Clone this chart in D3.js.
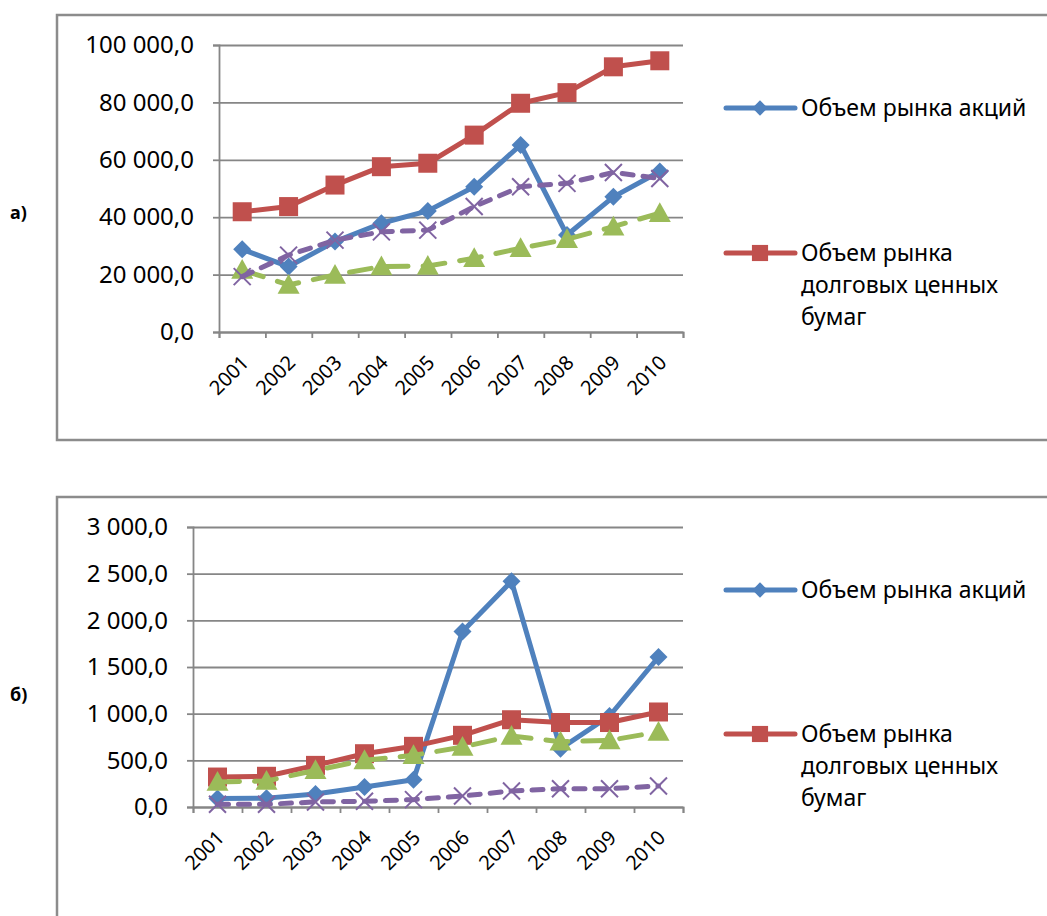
<!DOCTYPE html>
<html>
<head>
<meta charset="utf-8">
<script src="https://cdn.jsdelivr.net/npm/d3@7"></script>
<style>
  body { margin: 0; background: #fff; }
  svg { display: block; font-family: "Noto Sans", sans-serif; }
</style>
</head>
<body>
<div id="chart"></div>
<script>
// ---------------------------------- DATOS ----------------------------------
const YEARS = ["2001", "2002", "2003", "2004", "2005", "2006", "2007", "2008", "2009", "2010"];

const NOMBRE_ACCIONES = "Объем рынка акций";
const NOMBRE_BONOS = ["Объем рынка", "долговых ценных", "бумаг"];

// gráfico а)
const A_ACCIONES = [28800, 22800, 31500, 37900, 42200, 50600, 65200, 33800, 47100, 55900];
const A_BONOS = [41900, 43700, 51200, 57600, 58800, 68600, 79700, 83400, 92400, 94500];
const A_VERDE = [21600, 16400, 19900, 22800, 23000, 25700, 29200, 32300, 36700, 41400];
const A_MORADO = [19300, 26800, 32000, 34900, 35500, 43700, 50600, 51800, 55600, 53500];
const A_TICKS = [0, 20000, 40000, 60000, 80000, 100000];

// gráfico б)
const B_ACCIONES = [90, 95, 140, 214, 293, 1880, 2418, 625, 975, 1607];
const B_BONOS = [321, 329, 446, 571, 650, 768, 935, 905, 905, 1018];
const B_VERDE = [268, 279, 393, 500, 554, 643, 760, 700, 714, 804];
const B_MORADO = [29, 29, 54, 61, 79, 118, 171, 196, 196, 225];
const B_TICKS = [0, 500, 1000, 1500, 2000, 2500, 3000];

// ---------------------------------- ESTILO ----------------------------------
const WIDTH = 1047;
const HEIGHT = 916;

const AZUL = "#4F81BD";
const ROJO = "#C0504D";
const VERDE = "#9BBB59";
const MORADO = "#8064A2";
const GRIS = "#868686";

const locale = d3.formatLocale({ decimal: ",", thousands: " ", grouping: [3], currency: ["", ""] });
const formato = locale.format(",.1f");

const SVG = d3.select("#chart").append("svg")
  .attr("width", WIDTH)
  .attr("height", HEIGHT);

dibujarGrafico({
  etiqueta: "а)", etiquetaY: 219,
  marco: { x: 57, y: 15, w: 1100, h: 425 },
  izq: 219, der: 683, abajo: 332, arriba: 45,
  maximo: 100000, ticks: A_TICKS,
  acciones: A_ACCIONES, bonos: A_BONOS, verde: A_VERDE, morado: A_MORADO,
  leyenda1: 108, leyenda2: 253
});

dibujarGrafico({
  etiqueta: "б)", etiquetaY: 701,
  marco: { x: 57, y: 497, w: 1100, h: 500 },
  izq: 193, der: 683, abajo: 807, arriba: 527,
  maximo: 3000, ticks: B_TICKS,
  acciones: B_ACCIONES, bonos: B_BONOS, verde: B_VERDE, morado: B_MORADO,
  leyenda1: 590, leyenda2: 734
});

function dibujarGrafico(c) {
  const g = SVG.append("g");

  g.append("rect")
    .attr("x", c.marco.x).attr("y", c.marco.y)
    .attr("width", c.marco.w).attr("height", c.marco.h)
    .attr("fill", "none").attr("stroke", "#8c8c8c").attr("stroke-width", 2.5);

  g.append("text")
    .attr("x", 10).attr("y", c.etiquetaY)
    .attr("font-size", "18px").attr("font-weight", "bold")
    .text(c.etiqueta);

  const x = d3.scaleBand().domain(YEARS).range([c.izq, c.der]);
  const xMarcas = d3.scaleLinear().domain([0, YEARS.length]).range([c.izq, c.der]);
  const y = d3.scaleLinear().domain([0, c.maximo]).range([c.abajo, c.arriba]);
  const cx = d => x(d) + x.bandwidth() / 2;

  // líneas de cuadrícula
  g.append("g")
    .attr("transform", `translate(${c.izq},0)`)
    .call(d3.axisLeft(y).tickValues(c.ticks).tickSize(-(c.der - c.izq)).tickFormat(""))
    .call(s => s.select(".domain").remove())
    .call(s => s.selectAll("line").attr("stroke", GRIS).attr("stroke-width", 1.8));

  // eje Y
  g.append("g")
    .attr("transform", `translate(${c.izq},0)`)
    .call(d3.axisLeft(y).tickValues(c.ticks).tickSize(6).tickPadding(19).tickFormat(formato))
    .call(s => s.select(".domain").attr("stroke", GRIS).attr("stroke-width", 1.8))
    .call(s => s.selectAll("line").attr("stroke", GRIS).attr("stroke-width", 1.8))
    .call(s => s.selectAll("text").attr("font-size", "24px").attr("fill", "#000")
      .attr("font-family", "'Noto Sans', sans-serif"));

  // eje X: marcas entre categorías
  g.append("g")
    .attr("transform", `translate(0,${c.abajo})`)
    .call(d3.axisBottom(xMarcas).ticks(YEARS.length).tickSize(6).tickFormat(""))
    .call(s => s.select(".domain").attr("stroke", GRIS).attr("stroke-width", 1.8))
    .call(s => s.selectAll("line").attr("stroke", GRIS).attr("stroke-width", 1.8));

  // eje X: etiquetas de años
  g.append("g")
    .attr("transform", `translate(0,${c.abajo})`)
    .call(d3.axisBottom(x).tickSize(0).tickPadding(0))
    .call(s => s.select(".domain").remove())
    .call(s => s.selectAll("text")
      .attr("font-size", "20px").attr("fill", "#000")
      .attr("font-family", "'Noto Sans', sans-serif")
      .attr("text-anchor", "end")
      .attr("dy", null).attr("y", 0)
      .attr("transform", "translate(8,32) rotate(-45)"));

  const linea = d3.line().x((d, i) => cx(YEARS[i])).y(d => y(d));

  // series
  serie(g, c.acciones, AZUL, null, "rombo");
  serie(g, c.bonos, ROJO, null, "cuadrado");
  serie(g, c.verde, VERDE, "22,15", "triangulo");
  serie(g, c.morado, MORADO, "11,10", "equis");

  function serie(g, datos, color, guiones, marcador) {
    g.append("path")
      .datum(datos)
      .attr("d", linea)
      .attr("fill", "none")
      .attr("stroke", color)
      .attr("stroke-width", 5)
      .attr("stroke-linejoin", "round")
      .attr("stroke-linecap", "round")
      .attr("stroke-dasharray", guiones);

    datos.forEach((d, i) => {
      dibujarMarcador(g, marcador, cx(YEARS[i]), y(d), color, 1);
    });
  }

  // leyenda (solo dos entradas visibles)
  entradaLeyenda(g, c.leyenda1, AZUL, "rombo", [NOMBRE_ACCIONES]);
  entradaLeyenda(g, c.leyenda2, ROJO, "cuadrado", NOMBRE_BONOS);
}

function entradaLeyenda(g, yy, color, marcador, lineas) {
  g.append("line")
    .attr("x1", 726).attr("x2", 795).attr("y1", yy).attr("y2", yy)
    .attr("stroke", color).attr("stroke-width", 5).attr("stroke-linecap", "round");
  dibujarMarcador(g, marcador, 760, yy, color, 0.85);
  lineas.forEach((t, i) => {
    g.append("text")
      .attr("x", 801).attr("y", yy + 8 + i * 32)
      .attr("font-size", "23px")
      .attr("fill", "#000")
      .text(t);
  });
}

function dibujarMarcador(g, tipo, x, y, color, k) {
  if (tipo === "rombo") {
    const r = 9 * k;
    g.append("path")
      .attr("d", `M${x},${y - r}L${x + r},${y}L${x},${y + r}L${x - r},${y}Z`)
      .attr("fill", color);
  } else if (tipo === "cuadrado") {
    const r = 9.5 * k;
    g.append("rect")
      .attr("x", x - r).attr("y", y - r).attr("width", 2 * r).attr("height", 2 * r)
      .attr("fill", color);
  } else if (tipo === "triangulo") {
    const r = 11 * k;
    g.append("path")
      .attr("d", `M${x},${y - r}L${x + r},${y + r * 0.8}L${x - r},${y + r * 0.8}Z`)
      .attr("fill", color);
  } else if (tipo === "equis") {
    const r = 8.5 * k;
    g.append("path")
      .attr("d", `M${x - r},${y - r}L${x + r},${y + r}M${x - r},${y + r}L${x + r},${y - r}`)
      .attr("stroke", color).attr("stroke-width", 2);
  }
}
</script>
</body>
</html>
